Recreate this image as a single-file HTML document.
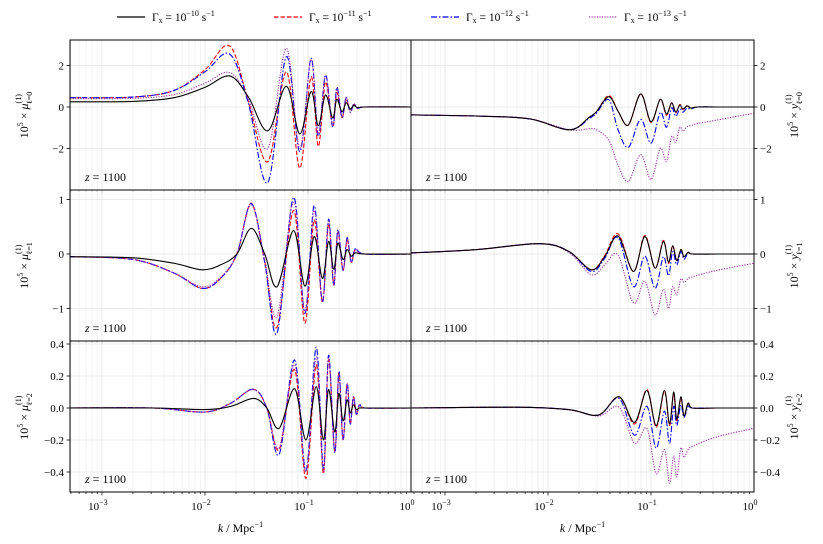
<!DOCTYPE html>
<html><head><meta charset="utf-8"><style>
body{margin:0;background:#fff;}
svg{display:block;font-family:"Liberation Serif","DejaVu Serif",serif;}
</style></head><body>
<svg id="chart" width="823" height="544" viewBox="0 0 823 544">
<g id="legend"></g>
<g id="panels"></g>
</svg>
<script>
// ---- data: log10(k) keypoints and series values per panel ----
const K_TL=[-3.31,-2.7,-2.3,-2.0,-1.76,-1.58,-1.39,-1.21,-1.08,-0.97,-0.90,-0.83,-0.76,-0.72,-0.67,-0.63,-0.59,-0.555,-0.52,-0.45,0];
const TL_black=[0.25,0.27,0.45,0.95,1.5,0.5,-1.15,1.0,-1.3,0.75,-0.9,0.58,-0.53,0.37,-0.23,0.2,-0.1,0.08,-0.03,0,0];
const TL_red=[0.45,0.48,0.8,1.8,2.95,0.3,-2.64,1.7,-2.95,1.46,-1.9,1.2,-0.95,0.7,-0.5,0.35,-0.2,0.12,-0.05,0,0];
const TL_blue=[0.45,0.48,0.8,1.7,2.56,0.2,-3.65,2.43,-2.16,2.35,-1.4,1.55,-0.95,0.96,-0.5,0.45,-0.25,0.15,-0.06,0,0];
const TL_purple=[0.4,0.42,0.6,1.15,1.66,0.4,-2.0,2.83,-2.0,2.3,-1.3,1.5,-0.9,0.9,-0.5,0.45,-0.25,0.15,-0.06,0,0];

const K_ML=[-3.31,-2.7,-2.3,-2.03,-1.85,-1.69,-1.55,-1.42,-1.30,-1.14,-1.03,-0.94,-0.86,-0.80,-0.75,-0.71,-0.66,-0.62,-0.58,-0.54,-0.45,0];
const ML_black=[-0.05,-0.07,-0.17,-0.29,-0.2,0,0.47,0.0,-0.6,0.43,-0.59,0.32,-0.45,0.23,-0.28,0.2,-0.1,0.08,-0.04,0.02,0,0];
const ML_red=[-0.05,-0.1,-0.35,-0.63,-0.45,0,0.93,-0.15,-1.34,0.8,-1.27,0.62,-0.88,0.55,-0.57,0.4,-0.3,0.25,-0.15,0.08,0,0];
const ML_blue=[-0.05,-0.1,-0.35,-0.63,-0.45,0,0.93,-0.15,-1.45,1.04,-1.09,0.89,-0.88,0.64,-0.57,0.45,-0.3,0.3,-0.15,0.1,0,0];
const ML_purple=[-0.05,-0.1,-0.35,-0.6,-0.43,0,0.9,-0.1,-1.15,0.95,-1.05,0.8,-0.85,0.6,-0.55,0.42,-0.3,0.28,-0.15,0.08,0,0];

const K_BL=[-3.31,-2.5,-2.0,-1.75,-1.53,-1.40,-1.28,-1.13,-1.02,-0.92,-0.85,-0.80,-0.74,-0.70,-0.66,-0.62,-0.59,-0.56,-0.53,-0.50,-0.45,0];
const BL_black=[0,0,-0.01,0.01,0.06,0.0,-0.127,0.12,-0.2,0.133,-0.2,0.115,-0.15,0.09,-0.08,0.05,-0.03,0.02,-0.01,0,0,0];
const BL_red=[0,0,-0.025,0.03,0.117,0.0,-0.26,0.24,-0.44,0.27,-0.41,0.3,-0.27,0.22,-0.2,0.15,-0.1,0.07,-0.04,0.02,0,0];
const BL_blue=[0,0,-0.025,0.03,0.117,0.0,-0.29,0.30,-0.39,0.38,-0.38,0.33,-0.28,0.23,-0.2,0.15,-0.1,0.07,-0.04,0.02,0,0];
const BL_purple=[0,0,-0.025,0.03,0.115,0.0,-0.25,0.27,-0.40,0.32,-0.40,0.31,-0.27,0.22,-0.2,0.15,-0.1,0.07,-0.04,0.02,0,0];

const K_TR=[-3.33,-2.6,-2.17,-1.79,-1.6,-1.53,-1.41,-1.32,-1.22,-1.10,-1.00,-0.91,-0.85,-0.80,-0.76,-0.72,-0.69,-0.65,-0.61,-0.55,-0.36,0];
const TR_black=[-0.38,-0.45,-0.58,-1.1,-0.5,-0.23,0.5,-0.2,-0.87,0.63,-0.71,0.37,-0.34,0.2,-0.25,0.1,-0.1,0.05,-0.05,0,0,0];
const TR_red=[-0.38,-0.45,-0.58,-1.1,-0.5,-0.23,0.55,-0.2,-0.87,0.63,-0.75,0.37,-0.4,0.2,-0.28,0.12,-0.12,0.06,-0.05,0,0,0];
const TR_blue=[-0.38,-0.45,-0.58,-1.1,-0.55,-0.3,0.35,-1.1,-1.95,-0.6,-1.75,-0.27,-0.98,-0.05,-0.45,-0.1,-0.25,-0.05,-0.1,0,0,0];
const TR_purple=[-0.38,-0.45,-0.58,-1.1,-1.05,-1.1,-1.6,-2.8,-3.6,-2.3,-3.5,-2.0,-2.64,-1.43,-1.7,-0.98,-1.17,-0.95,-0.9,-0.8,-0.63,-0.3];

const K_MR=[-3.33,-2.7,-2.08,-1.8,-1.58,-1.45,-1.32,-1.17,-1.06,-0.96,-0.88,-0.83,-0.79,-0.75,-0.71,-0.68,-0.64,-0.6,-0.36,0];
const MR_black=[0.02,0.08,0.19,0.05,-0.29,-0.05,0.33,-0.32,0.32,-0.26,0.23,-0.15,0.15,-0.12,0.08,-0.05,0.03,0,0,0];
const MR_red=[0.02,0.08,0.19,0.05,-0.29,-0.03,0.37,-0.32,0.34,-0.26,0.25,-0.17,0.15,-0.12,0.08,-0.05,0.03,0,0,0];
const MR_blue=[0.02,0.08,0.19,0.05,-0.32,-0.08,0.3,-0.6,-0.04,-0.63,-0.05,-0.4,0.04,-0.2,0.05,-0.1,0.02,0,0,0];
const MR_purple=[0.02,0.08,0.19,0.03,-0.38,-0.2,-0.02,-0.9,-0.5,-1.12,-0.65,-1.0,-0.6,-0.75,-0.46,-0.52,-0.45,-0.42,-0.3,-0.17];

const K_BR=[-3.33,-2.3,-1.8,-1.51,-1.31,-1.16,-1.04,-0.95,-0.87,-0.82,-0.78,-0.75,-0.71,-0.68,-0.64,-0.6,-0.36,0];
const BR_black=[0,0.005,-0.01,-0.044,0.07,-0.09,0.11,-0.11,0.11,-0.1,0.1,-0.07,0.07,-0.05,0.03,0,0,0];
const BR_red=[0,0.005,-0.01,-0.044,0.07,-0.1,0.115,-0.12,0.105,-0.11,0.09,-0.08,0.06,-0.05,0.03,0,0,0];
const BR_blue=[0,0.005,-0.01,-0.044,0.06,-0.17,0.01,-0.25,-0.02,-0.22,0.01,-0.11,0.02,-0.06,0.01,0,0,0];
const BR_purple=[0,0.005,-0.012,-0.05,0.005,-0.22,-0.127,-0.41,-0.26,-0.47,-0.3,-0.43,-0.25,-0.31,-0.26,-0.24,-0.18,-0.127];

const xTickLabels=["-3","-2","-1","0"];
const yTicksTop=[2,0,-2];
const yTicksMid=[1,0,-1];
const yTicksBot=[0.4,0.2,0.0,-0.2,-0.4];
const legendExp=["-10","-11","-12","-13"];

// ---- layout ----
const NS="http://www.w3.org/2000/svg";
const svg=document.getElementById('chart');
const gP=document.getElementById('panels');
const gL=document.getElementById('legend');
function el(t,a,p){const e=document.createElementNS(NS,t);for(const k in a)e.setAttribute(k,a[k]);(p||gP).appendChild(e);return e;}
const styles=[
 {name:'black',color:'#000',dash:null},
 {name:'red',color:'#f00',dash:'4.5,2'},
 {name:'blue',color:'#00f',dash:'6,2,1.5,2'},
 {name:'purple',color:'#a030a8',dash:'1.2,1.4'}];
const cols=[{x0:70,x1:411,lmin:-3.31,lmax:0},{x0:411,x1:754,lmin:-3.33,lmax:0}];
const rows=[{y0:40,y1:190,zero:107,ppu:20.7,ticks:yTicksTop,fmt:v=>v==0?'0':(v<0?'\u22122':'2').replace('2',Math.abs(v))},
 {y0:190,y1:341,zero:254,ppu:54.5,ticks:yTicksMid,fmt:v=>v==0?'0':(v<0?'\u2212':'')+Math.abs(v)},
 {y0:341,y1:492,zero:408,ppu:160,ticks:yTicksBot,fmt:v=>(v<0?'\u2212':'')+Math.abs(v).toFixed(1)}];
const panelData=[
 [[K_TL,[TL_black,TL_red,TL_blue,TL_purple]],[K_TR,[TR_black,TR_red,TR_blue,TR_purple]]],
 [[K_ML,[ML_black,ML_red,ML_blue,ML_purple]],[K_MR,[MR_black,MR_red,MR_blue,MR_purple]]],
 [[K_BL,[BL_black,BL_red,BL_blue,BL_purple]],[K_BR,[BR_black,BR_red,BR_blue,BR_purple]]]];
const ylabels=[['\u03bc','0'],['\u03bc','1'],['\u03bc','2']];

const defs=el('defs',{},svg);
function pathFrom(pts){
 let d=`M${pts[0][0].toFixed(2)},${pts[0][1].toFixed(2)}`;
 for(let i=0;i<pts.length-1;i++){
  const p0=pts[Math.max(0,i-1)],p1=pts[i],p2=pts[i+1],p3=pts[Math.min(pts.length-1,i+2)];
  const c1=[p1[0]+(p2[0]-p0[0])/6,p1[1]+(p2[1]-p0[1])/6];
  const c2=[p2[0]-(p3[0]-p1[0])/6,p2[1]-(p3[1]-p1[1])/6];
  c1[0]=Math.min(Math.max(c1[0],p1[0]),p2[0]);c2[0]=Math.min(Math.max(c2[0],p1[0]),p2[0]);
  d+=`C${c1[0].toFixed(2)},${c1[1].toFixed(2)} ${c2[0].toFixed(2)},${c2[1].toFixed(2)} ${p2[0].toFixed(2)},${p2[1].toFixed(2)}`;
 }
 return d;
}

rows.forEach((r,ri)=>{
 cols.forEach((c,ci)=>{
  const xs=l=>c.x0+(l-c.lmin)/(c.lmax-c.lmin)*(c.x1-c.x0);
  const ys=v=>r.zero-v*r.ppu;
  const id='clip'+ri+ci;
  const cp=el('clipPath',{id},defs);
  el('rect',{x:c.x0,y:r.y0,width:c.x1-c.x0,height:r.y1-r.y0},cp);
  const g=el('g',{});
  
  
  // grid
  for(let dec=-4;dec<0;dec++){for(let m=1;m<10;m++){const l=dec+Math.log10(m);if(l<c.lmin||l>c.lmax)continue;const x=xs(l);
   el('line',{x1:x,x2:x,y1:r.y0,y2:r.y1,stroke:m==1?'#e4e4e4':'#efefef','stroke-width':0.8},g);
   el('line',{x1:x,x2:x,y1:r.y1,y2:r.y1+(m==1?3.5:2),stroke:'#000','stroke-width':0.7},g);}}
  r.ticks.forEach(v=>{const y=ys(v);
   el('line',{x1:c.x0,x2:c.x1,y1:y,y2:y,stroke:'#e4e4e4','stroke-width':0.8},g);
   const tx=ci==0?c.x0:c.x1;
   el('line',{x1:tx,x2:ci==0?tx-3.5:tx+3.5,y1:y,y2:y,stroke:'#000','stroke-width':0.8},g);
   const t=el('text',{x:ci==0?tx-6:tx+6,y:y+4,'font-size':11,'text-anchor':ci==0?'end':'start',fill:'#000'},g);
   
   
   t.textContent=r.fmt(v);});
  // series
  const [K,series]=panelData[ri][ci];
  const sg=el('g',{'clip-path':`url(#${id})`},g);
  [1,2,3,0].forEach(si=>{
   const st=styles[si];
   const pts=K.map((l,i)=>[xs(l),ys(series[si][i])]);
   const p=el('path',{d:pathFrom(pts),fill:'none',stroke:st.color,'stroke-width':1.1},sg);
   if(st.dash)p.setAttribute('stroke-dasharray',st.dash);
   
   
  });
  el('rect',{x:c.x0,y:r.y0,width:c.x1-c.x0,height:r.y1-r.y0,fill:'none',stroke:'#000','stroke-width':1},g);
  const zt=el('text',{x:c.x0+15,y:r.y1-9,'font-size':12},g);
  
  
  zt.innerHTML='<tspan font-style="italic">z</tspan> = 1100';
  // y label
  const lx=ci==0?28:798, ly=(r.y0+r.y1)/2;
  const yl=el('text',{x:lx,y:ly,'font-size':12,'text-anchor':'middle',transform:`rotate(-90 ${lx} ${ly})`},g);
  
  
  yl.innerHTML=`10<tspan dy="-5" font-size="8">5</tspan><tspan dy="5"> \u00d7 </tspan><tspan font-style="italic">${ci==0?'\u03bc':'y'}</tspan><tspan dy="-7" font-size="8">(1)</tspan><tspan dx="-10" dy="11" font-size="8">\u2113=${ri}</tspan>`;
  if(ri==2){
   xTickLabels.forEach(e=>{const x=xs(+e);
    const t=el('text',{x:x-4,y:510,'font-size':11,'text-anchor':'middle'},g);
    
    
    t.innerHTML=`10<tspan dy="-5" font-size="8">${e.replace('-','\u2212')}</tspan>`;});
   const xt=el('text',{x:(c.x0+c.x1)/2,y:532,'font-size':12,'text-anchor':'middle'},g);
   
   
   xt.innerHTML='<tspan font-style="italic">k</tspan> / Mpc<tspan dy="-5" font-size="8">\u22121</tspan>';
  }
 });
});

// legend
const lx0=[117,274,431,589];
styles.forEach((st,i)=>{
 const g=el('g',{},gL);
 
 
 const l=el('line',{x1:lx0[i],x2:lx0[i]+28,y1:17,y2:17,stroke:st.color,'stroke-width':1.2},g);
 if(st.dash)l.setAttribute('stroke-dasharray',st.dash);
 const t=el('text',{x:lx0[i]+35,y:21,'font-size':11.5},g);
 t.innerHTML=`\u0393<tspan font-size="8" dy="2">x</tspan><tspan dy="-2"> = 10</tspan><tspan dy="-5" font-size="8">\u2212${legendExp[i].slice(1)}</tspan><tspan dy="5"> s</tspan><tspan dy="-5" font-size="8">\u22121</tspan>`;
});
</script>
</body></html>
